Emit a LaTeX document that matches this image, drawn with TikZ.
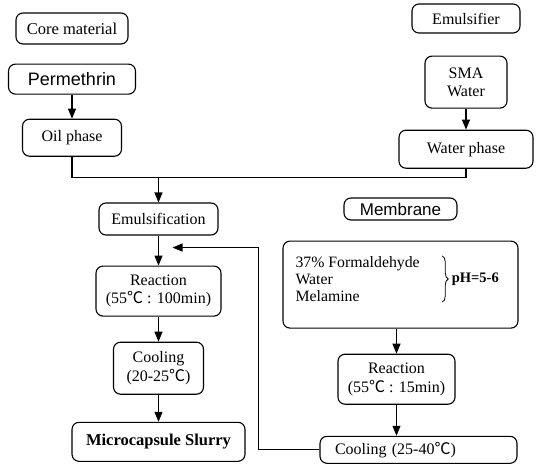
\documentclass[tikz,border=0pt]{standalone}
\usepackage{fontspec}
\setmainfont{Liberation Serif}
\newfontfamily\sansf{Liberation Sans}
\newfontfamily\cjk{Noto Sans CJK SC}
\usetikzlibrary{arrows.meta, positioning, decorations.pathreplacing}
\newcommand{\degC}{{\cjk ℃}}

\begin{document}
\begin{tikzpicture}[
  x=1pt, y=-1pt,
  line width=1.1pt,
  box/.style={draw, rounded corners=7pt, inner sep=0pt, align=center,
              font=\fontsize{16}{18.5}\selectfont},
  sansbox/.style={box, font=\sansf\fontsize{18}{20}\selectfont},
  arrow/.style={-{Triangle[length=10pt, width=8pt]}}
]
  \useasboundingbox (0,0) rectangle (536,466);

  % core material and emulsifier
  \node[box, minimum width=112pt, minimum height=31pt, font=\fontsize{16.5}{18}\selectfont] (core) at (72,28.5) {Core material};
  \node[sansbox, minimum width=127pt, minimum height=30pt, below=19pt of core] (perm) {Permethrin};
  \node[box, minimum width=99pt, minimum height=37pt, below=24pt of perm] (oil) {Oil phase};

  \node[box, minimum width=108pt, minimum height=29pt] (emulsifier) at (466,18.5) {Emulsifier};
  \node[box, minimum width=82pt, minimum height=52pt, below=22pt of emulsifier] (sma) {SMA\\Water};
  \node[box, minimum width=134pt, minimum height=38pt, below=21pt of sma] (water) {Water phase};

  % main line
  \node[box, minimum width=119pt, minimum height=32pt] (emul) at (158.5,219) {Emulsification};
  \node[box, minimum width=125pt, minimum height=50pt, below=30pt of emul] (react) {Reaction\\(55\degC\ : 100min)};
  \node[box, minimum width=90pt, minimum height=52pt, below=25pt of react] (cool) {Cooling\\(20-25\degC)};
  \node[box, minimum width=173pt, minimum height=39pt, below=27pt of cool,
        font=\bfseries\fontsize{16.5}{18}\selectfont] (slurry) {Microcapsule Slurry};

  % membrane
  \node[sansbox, minimum width=113pt, minimum height=22pt, font=\sansf\fontsize{17}{18}\selectfont] (membrane) at (400.5,209) {Membrane};
  \node[box, minimum width=235pt, minimum height=87pt, below=20pt of membrane] (mix) {};
  \node[anchor=west, align=left, inner sep=0pt, font=\fontsize{15.8}{17}\selectfont] (reagents) at (295,279)
    {37\% Formaldehyde\\Water\\Melamine};
  \draw[decorate, decoration={brace, amplitude=6pt}, line width=0.8pt]
    ([xshift=22pt]reagents.north east) -- ([xshift=22pt]reagents.south east);
  \node[anchor=west, inner sep=0pt, font=\bfseries\fontsize{14.5}{18}\selectfont] (ph) at ([xshift=31pt]reagents.east) {pH=5-6};
  \node[box, minimum width=117pt, minimum height=50pt, below=25pt of mix, xshift=-4pt] (react2) {Reaction\\(55\degC\ : 15min)};
  \node[box, text width=167pt, inner xsep=15pt, align=left, minimum height=27pt,
        below=31pt of react2, xshift=22pt] (cool2) {Cooling (25-40\degC)};

  % connectors
  \draw[arrow] (perm) -- (oil);
  \draw[arrow] (sma) -- (water);
  \coordinate[above=25pt of emul] (join);
  \draw (oil.south) |- (join) -| (water.south);
  \draw[arrow] (join) -- (emul);
  \draw[arrow] (emul) -- (react);
  \draw[arrow] (react) -- (cool);
  \draw[arrow] (cool) -- (slurry);
  \draw[arrow] (mix.south -| react2) -- (react2);
  \draw[arrow] (react2) -- (react2 |- cool2.north);
  \coordinate (back) at ([xshift=14pt, yshift=-12pt]emul.south);
  \coordinate (turn) at ([xshift=86pt]back);
  \draw[arrow] (cool2.west) -| (turn) -- (back);
\end{tikzpicture}
\end{document}
